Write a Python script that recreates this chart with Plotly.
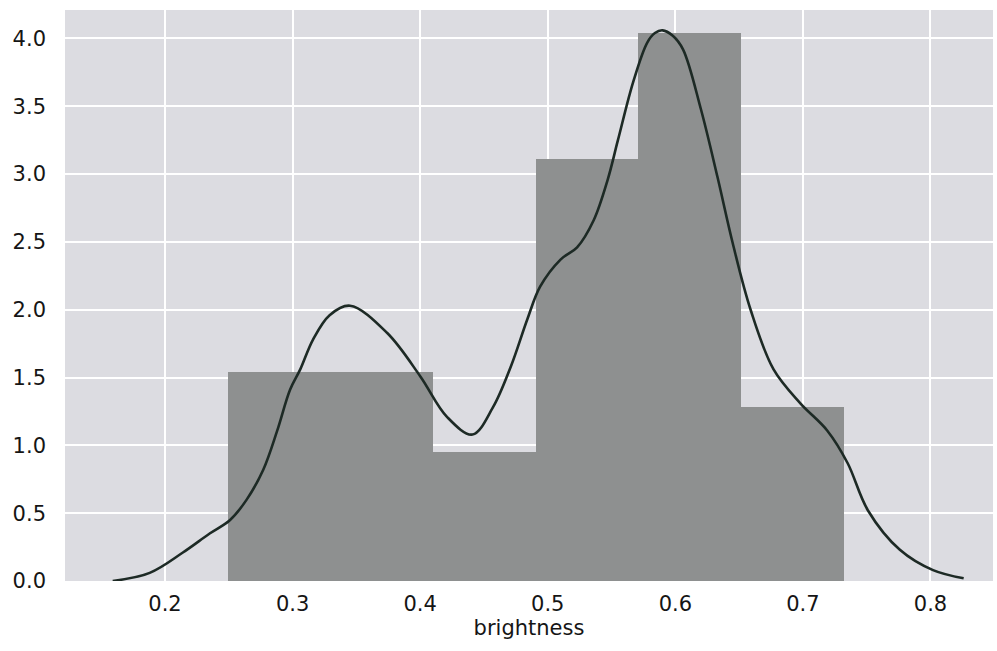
import plotly.graph_objects as go

# Histogram (density) bins
bin_left = [0.249, 0.3295, 0.410, 0.4905, 0.571, 0.6515]
bin_width = 0.0805
density = [1.54, 1.54, 0.95, 3.11, 4.04, 1.28]

# KDE curve
kde_x = [0.159, 0.188, 0.214, 0.235, 0.251, 0.264, 0.277, 0.288, 0.298, 0.306,
         0.316, 0.329, 0.345, 0.374, 0.400, 0.421, 0.441, 0.457, 0.471, 0.484,
         0.494, 0.510, 0.523, 0.536, 0.547, 0.555, 0.567, 0.578, 0.584, 0.590,
         0.598, 0.606, 0.620, 0.633, 0.645, 0.659, 0.677, 0.698, 0.719, 0.735,
         0.751, 0.776, 0.802, 0.826]
kde_y = [0.00, 0.06, 0.21, 0.35, 0.45, 0.60, 0.82, 1.11, 1.41, 1.56,
         1.78, 1.96, 2.03, 1.83, 1.51, 1.21, 1.08, 1.28, 1.58, 1.93,
         2.17, 2.37, 2.46, 2.66, 2.96, 3.25, 3.68, 3.97, 4.04, 4.06,
         4.02, 3.92, 3.48, 2.98, 2.49, 2.00, 1.56, 1.31, 1.11, 0.87,
         0.52, 0.23, 0.08, 0.02]

x_ticks = [0.2, 0.3, 0.4, 0.5, 0.6, 0.7, 0.8]
y_ticks = [0.0, 0.5, 1.0, 1.5, 2.0, 2.5, 3.0, 3.5, 4.0]

centers = [b + bin_width / 2 for b in bin_left]

fig = go.Figure()
fig.add_trace(go.Bar(
    x=centers, y=density, width=[bin_width] * len(density),
    marker=dict(color="#8e9090", line=dict(width=0)),
    showlegend=False, hoverinfo="skip"))
fig.add_trace(go.Scatter(
    x=kde_x, y=kde_y, mode="lines",
    line=dict(color="#1d2a25", width=2.6, shape="spline", smoothing=1.0),
    showlegend=False))

font = dict(family="DejaVu Sans", size=21, color="#151515")
fig.update_layout(
    width=997, height=651,
    margin=dict(l=65, r=4, t=10, b=70),
    paper_bgcolor="white",
    plot_bgcolor="#dcdce1",
    font=font,
    bargap=0,
    xaxis=dict(range=[0.1216, 0.849], tickvals=x_ticks,
               ticktext=[f"{v:.1f}" for v in x_ticks],
               showgrid=True, gridcolor="white", gridwidth=2,
               zeroline=False, showline=False, ticks="",
               ticklabelstandoff=8,
               title=dict(text="brightness", font=font, standoff=2)),
    yaxis=dict(range=[0, 4.21], tickvals=y_ticks,
               ticktext=[f"{v:.1f}" for v in y_ticks],
               showgrid=True, gridcolor="white", gridwidth=2,
               zeroline=False, showline=False, ticks="",
               ticklabelstandoff=18),
)
fig.write_html("out.html", config={"displayModeBar": False},
               post_script="document.body.style.margin='0';document.body.style.overflow='hidden';")
